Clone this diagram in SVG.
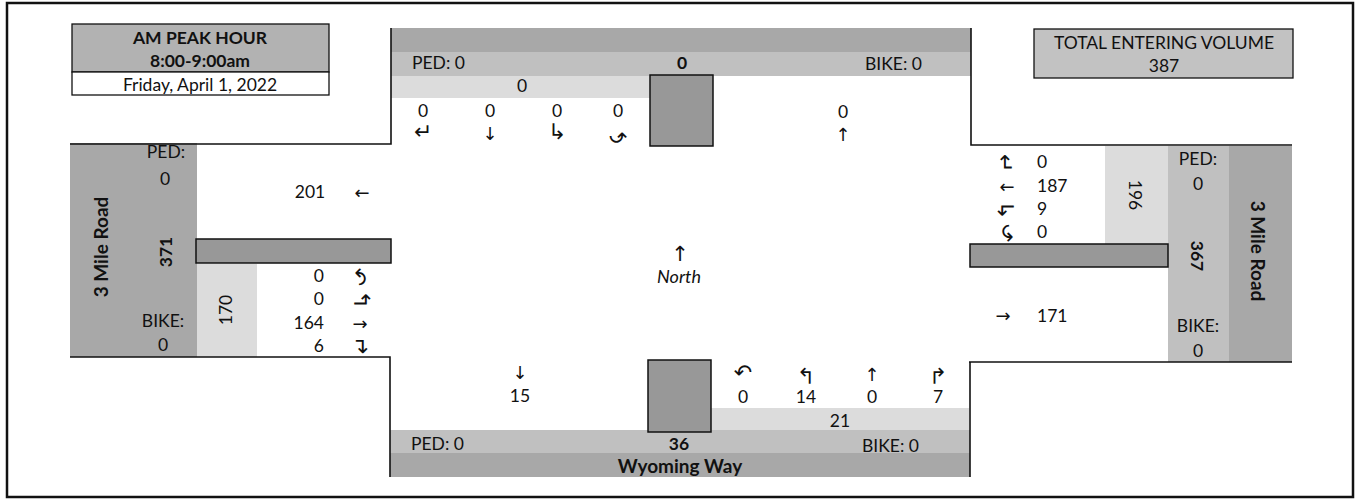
<svg xmlns="http://www.w3.org/2000/svg" width="1363" height="504" viewBox="0 0 1363 504">
<style>
.t{font-family:Lato,"Liberation Sans",sans-serif;font-size:17.5px;fill:#111}
.b{font-weight:bold}
.m{text-anchor:middle}
.e{text-anchor:end}
.c{dominant-baseline:central}
.rd{font-size:19px}
.ar{font-family:"DejaVu Sans",sans-serif;font-size:18px;fill:#111;text-anchor:middle;dominant-baseline:central}
.ac{font-size:22px}
.ln{fill:none;stroke:#111;stroke-width:1.6}
.dk{fill:#a8a8a8}
.md{fill:#c0c0c0}
.lt{fill:#dcdcdc}
.bx{fill:#989898;stroke:#111;stroke-width:1.5}
</style>
<rect x="0" y="0" width="1363" height="504" fill="#ffffff"/>
<rect x="7" y="3" width="1346" height="494" fill="none" stroke="#111" stroke-width="2.5"/>

<g id="title-box">
<rect x="72" y="24" width="257" height="48" fill="#b2b2b2" stroke="#111" stroke-width="1.3"/>
<rect x="72" y="72" width="257" height="23" fill="#fff" stroke="#111" stroke-width="1.3"/>
<text class="t b m" x="200" y="44">AM PEAK HOUR</text>
<text class="t b m" x="200" y="67">8:00-9:00am</text>
<text class="t m" x="200" y="91">Friday, April 1, 2022</text>
</g>

<g id="total-box">
<rect x="1034" y="29" width="259" height="49" fill="#c2c2c2" stroke="#111" stroke-width="1.3"/>
<text class="t m" x="1164" y="49">TOTAL ENTERING VOLUME</text>
<text class="t m" x="1164" y="72">387</text>
</g>

<g id="north-leg">
<rect class="dk" x="391" y="28" width="580" height="24"/>
<rect class="md" x="391" y="52" width="580" height="24"/>
<rect class="lt" x="391" y="76" width="259" height="22"/>
<rect class="bx" x="650" y="75" width="63" height="71"/>
<text class="t" x="412" y="69">PED: 0</text>
<text class="t b m" x="682" y="69">0</text>
<text class="t" x="865" y="70">BIKE: 0</text>
<text class="t m" x="522" y="92">0</text>
<text class="t m" x="423" y="117">0</text>
<text class="t m" x="490" y="117">0</text>
<text class="t m" x="557" y="117">0</text>
<text class="t m" x="618" y="117">0</text>
<text class="t m" x="843" y="118">0</text>
<text class="ar ac" x="423" y="131">↵</text>
<text class="ar" x="490" y="133">↓</text>
<text class="ar ac" x="557" y="131">↳</text>
<text class="ar ac" transform="translate(618,135) rotate(180)">↶</text>
<text class="ar" x="843" y="134">↑</text>
</g>

<g id="west-leg">
<rect class="dk" x="70" y="143" width="127" height="214"/>
<rect class="lt" x="197" y="264" width="60" height="93"/>
<rect class="bx" x="196" y="239" width="195" height="24"/>
<text class="t m" x="166" y="158">PED:</text>
<text class="t m" x="165" y="185">0</text>
<text class="t b m c rd" transform="translate(100,247) rotate(-90)">3 Mile Road</text>
<text class="t b m c" transform="translate(165,252) rotate(-90)">371</text>
<text class="t m c" transform="translate(225,310) rotate(-90)">170</text>
<text class="t m" x="163" y="327">BIKE:</text>
<text class="t m" x="163" y="351">0</text>
<text class="t m" x="310" y="198">201</text>
<text class="ar" x="362" y="192">←</text>
<text class="t e" x="324" y="282">0</text>
<text class="t e" x="324" y="305">0</text>
<text class="t e" x="324" y="329">164</text>
<text class="t e" x="324" y="352">6</text>
<text class="ar ac" transform="translate(358,277) rotate(90)">↶</text>
<text class="ar ac" transform="translate(362,300) rotate(-90)">↳</text>
<text class="ar" x="360" y="323">→</text>
<text class="ar ac" x="360" y="345">↴</text>
</g>

<g id="east-leg">
<rect class="lt" x="1105" y="146" width="63" height="98"/>
<rect class="md" x="1168" y="146" width="61" height="216"/>
<rect class="dk" x="1229" y="146" width="63" height="216"/>
<rect class="bx" x="970" y="244" width="198" height="23"/>
<text class="t m" x="1198" y="165">PED:</text>
<text class="t m" x="1198" y="190">0</text>
<text class="t m c" transform="translate(1135,195) rotate(90)">196</text>
<text class="t b m c" transform="translate(1197,256) rotate(90)">367</text>
<text class="t b m c rd" transform="translate(1258,251) rotate(90)">3 Mile Road</text>
<text class="t m" x="1198" y="332">BIKE:</text>
<text class="t m" x="1198" y="357">0</text>
<text class="t" x="1037" y="168">0</text>
<text class="t" x="1037" y="192">187</text>
<text class="t" x="1037" y="215">9</text>
<text class="t" x="1037" y="238">0</text>
<text class="ar ac" transform="translate(1005,163) rotate(90)">↵</text>
<text class="ar" x="1007" y="186">←</text>
<text class="ar ac" transform="translate(1005,210) rotate(90)">↳</text>
<text class="ar ac" transform="translate(1009,233) rotate(-90)">↶</text>
<text class="ar" x="1003" y="315">→</text>
<text class="t" x="1037" y="322">171</text>
</g>

<g id="south-leg">
<rect class="lt" x="711" y="408" width="258" height="22"/>
<rect class="md" x="390" y="430" width="580" height="23"/>
<rect class="dk" x="390" y="453" width="580" height="24"/>
<rect class="bx" x="648" y="360" width="63" height="72"/>
<text class="ar" x="520" y="372">↓</text>
<text class="t m" x="520" y="402">15</text>
<text class="ar ac" x="743" y="372">↶</text>
<text class="ar ac" x="806" y="376">↰</text>
<text class="ar" x="872" y="374">↑</text>
<text class="ar ac" x="938" y="376">↱</text>
<text class="t m" x="743" y="403">0</text>
<text class="t m" x="806" y="403">14</text>
<text class="t m" x="872" y="403">0</text>
<text class="t m" x="938" y="403">7</text>
<text class="t m" x="840" y="427">21</text>
<text class="t" x="411" y="450">PED: 0</text>
<text class="t b m" x="679" y="450">36</text>
<text class="t" x="862" y="452">BIKE: 0</text>
<text class="t b m rd" x="680" y="473">Wyoming Way</text>
</g>

<g id="north-arrow">
<text class="ar" x="680" y="254" style="font-size:21px">↑</text>
<text class="t m" x="679" y="283" style="font-style:italic;font-size:18px">North</text>
</g>

<g id="connectors">
<path class="ln" d="M391,28 V144 H70"/>
<path class="ln" d="M971,28 V145 H1292"/>
<path class="ln" d="M70,357 H390 V477"/>
<path class="ln" d="M969,362 H1292"/>
<path class="ln" d="M970,362 V477"/>
</g>
</svg>
